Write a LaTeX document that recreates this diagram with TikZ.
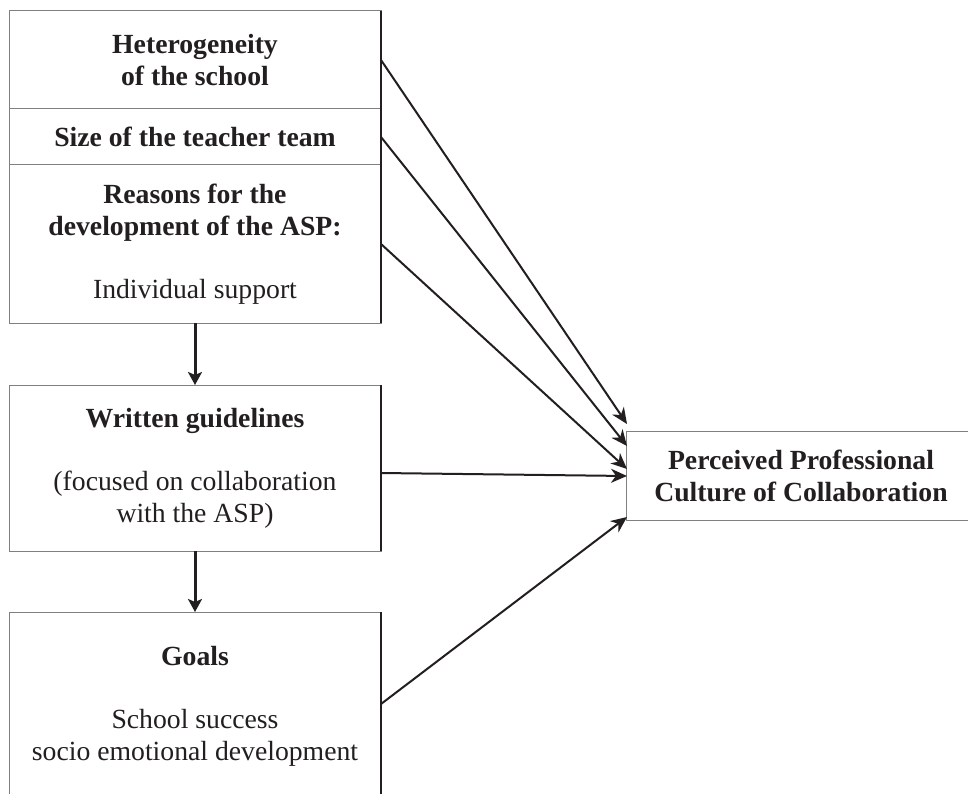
\documentclass[tikz,border=0pt]{standalone}
\usepackage{fontspec}
\setmainfont{Liberation Serif}
\usetikzlibrary{arrows.meta,calc}
\definecolor{boxgray}{RGB}{128,128,128}
\definecolor{ink}{RGB}{35,31,32}
\begin{document}
\begin{tikzpicture}[x=1pt,y=-1pt,
  box/.style={draw=boxgray, line width=1pt, rectangle, inner sep=0pt, outer sep=0pt,
    align=center, text=ink, font=\fontsize{27.7}{32}\selectfont},
  conn/.style={draw=ink, line width=2pt, -{Stealth[length=16pt,width=14pt,inset=5pt]}},
  vconn/.style={draw=ink, line width=3pt, -{Stealth[length=13pt,width=14pt,inset=3pt]}},
  redge/.style={draw=ink, line width=1.4pt}]
\useasboundingbox (0,0) rectangle (968,794);
\clip (0,0) rectangle (968,794);
\fill[white] (0,0) rectangle (968,794);

\node[box, minimum width=372pt, minimum height=98pt] (A) at (195,60)
  {\textbf{Heterogeneity}\\\textbf{of the school}};
\node[box, minimum width=372pt, minimum height=56pt] (B) at (195,137)
  {\textbf{Size of the teacher team}};
\node[box, minimum width=372pt, minimum height=158pt] (C) at (195,244)
  {\textbf{Reasons for the}\\\textbf{development of the ASP:}\\[31pt]Individual support};
\node[box, minimum width=372pt, minimum height=166pt] (D) at (195,468)
  {\textbf{Written guidelines}\\[31pt](focused on collaboration\\with the ASP)};
\node[box, minimum width=372pt, minimum height=188pt] (E) at (195,706)
  {\textbf{Goals}\\[31pt]School success\\socio emotional development};
\node[box, minimum width=350pt, minimum height=89pt] (F) at (801,475.5)
  {\textbf{Perceived Professional}\\\textbf{Culture of Collaboration}};

% darker right edges of the left boxes
\draw[redge] (A.north east) -- (C.south east);
\draw[redge] (D.north east) -- (D.south east);
\draw[redge] (E.north east) -- (E.south east);

% connectors
\coordinate (fa) at ($(F.north west)+(1,-7)$);
\coordinate (fb) at ($(F.north west)+(1,15)$);
\coordinate (fc) at ($(F.north west)+(1,38)$);
\coordinate (fd) at ($(F.west)+(1,0.5)$);
\coordinate (fe) at ($(F.south west)+(1,-3)$);
\coordinate (ds) at ($(D.east)+(0,5)$);
\coordinate (es) at ($(E.north east)+(0,92)$);

\draw[conn] (A.east) -- (fa);
\draw[conn] (B.east) -- (fb);
\draw[conn] (C.east) -- (fc);
\draw[conn] (ds) -- (fd);
\draw[conn] (es) -- (fe);

\draw[vconn] (C.south) -- (D.north);
\draw[vconn] (D.south) -- (E.north);
\end{tikzpicture}
\end{document}
